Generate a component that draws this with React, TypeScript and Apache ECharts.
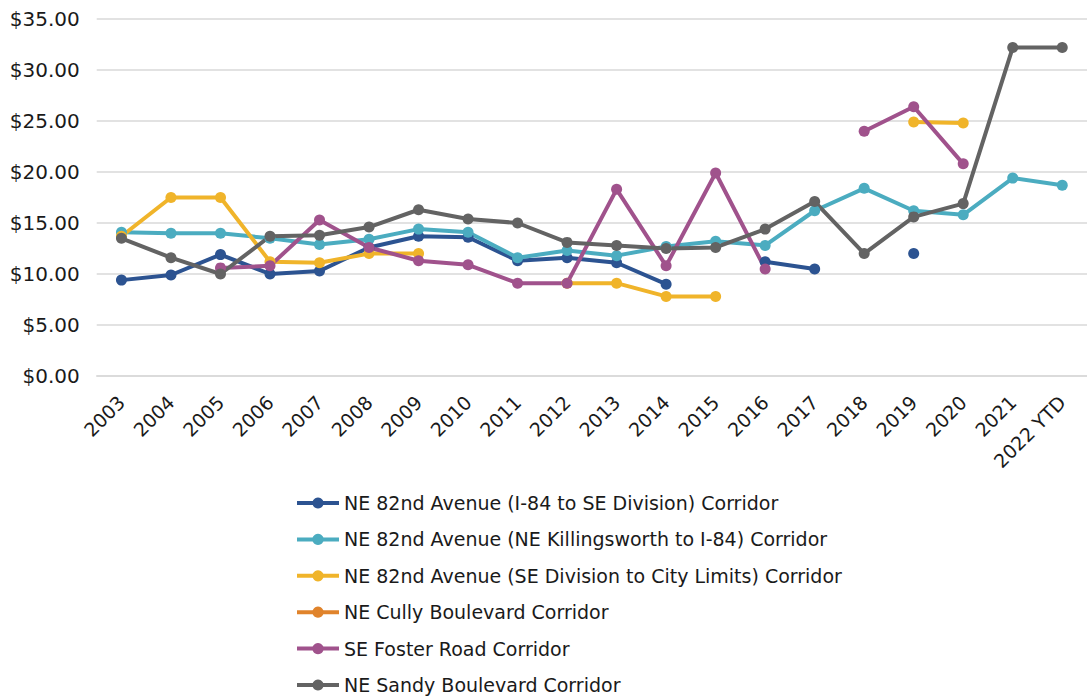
import React, { useEffect, useRef } from "react";
import * as echarts from "echarts";

const categories = ["2003","2004","2005","2006","2007","2008","2009","2010","2011","2012","2013","2014","2015","2016","2017","2018","2019","2020","2021","2022 YTD"];

const seriesNames = [
  "NE 82nd Avenue (I-84 to SE Division) Corridor",
  "NE 82nd Avenue (NE Killingsworth to I-84) Corridor",
  "NE 82nd Avenue (SE Division to City Limits) Corridor",
  "NE Cully Boulevard Corridor",
  "SE Foster Road Corridor",
  "NE Sandy Boulevard Corridor",
];

const i84ToDivision = [9.4, 9.9, 11.9, 10.0, 10.3, 12.6, 13.7, 13.6, 11.3, 11.6, 11.1, 9.0, null, 11.2, 10.5, null, 12.0, null, null, null];
const killingsworthToI84 = [14.1, 14.0, 14.0, 13.5, 12.9, 13.4, 14.4, 14.1, 11.6, 12.3, 11.8, 12.7, 13.2, 12.8, 16.2, 18.4, 16.2, 15.8, 19.4, 18.7];
const divisionToCityLimits = [13.7, 17.5, 17.5, 11.2, 11.1, 12.0, 12.0, null, null, 9.1, 9.1, 7.8, 7.8, null, null, null, 24.9, 24.8, null, null];
const cullyBoulevard = [null, null, null, null, null, null, null, null, null, null, null, null, null, null, null, null, null, null, null, null];
const fosterRoad = [null, null, 10.6, 10.8, 15.3, 12.6, 11.3, 10.9, 9.1, 9.1, 18.3, 10.8, 19.9, 10.5, null, 24.0, 26.4, 20.8, null, null];
const sandyBoulevard = [13.5, 11.6, 10.0, 13.7, 13.8, 14.6, 16.3, 15.4, 15.0, 13.1, 12.8, 12.5, 12.6, 14.4, 17.1, 12.0, 15.6, 16.9, 32.2, 32.2];

const seriesData = [i84ToDivision, killingsworthToI84, divisionToCityLimits, cullyBoulevard, fosterRoad, sandyBoulevard];
const colors = ["#2C5391", "#4BACC0", "#F0B42A", "#E0832B", "#A0528C", "#636363"];

const FONT = "DejaVu Sans";

export default function App() {
  const ref = useRef<HTMLDivElement>(null);
  useEffect(() => {
    document.body.style.margin = "0";
    if (!ref.current) return;
    const chart = echarts.init(ref.current, null, { renderer: "svg" });
    chart.setOption({
      animation: false,
      color: colors,
      textStyle: { fontFamily: FONT },
      grid: { left: 96.7, top: 19, width: 998.6, height: 357, containLabel: false },
      legend: {
        orient: "vertical",
        left: 295,
        top: 493,
        padding: 0,
        height: 207,
        align: "left",
        itemWidth: 42,
        itemHeight: 14,
        itemGap: 16.4,
        lineStyle: { width: 4 },
        textStyle: { fontFamily: FONT, fontSize: 19, color: "#1a1a1a", lineHeight: 20 },
        data: seriesNames,
      },
      xAxis: {
        type: "category",
        data: categories,
        boundaryGap: true,
        axisLine: { show: true, lineStyle: { color: "#D9D9D9", width: 1.5 } },
        axisTick: { show: false },
        axisLabel: { rotate: 45, fontSize: 19, fontFamily: FONT, color: "#1a1a1a", margin: 23, interval: 0 },
      },
      yAxis: {
        type: "value",
        min: 0,
        max: 35,
        interval: 5,
        axisLine: { show: false },
        axisTick: { show: false },
        splitLine: { lineStyle: { color: "#D9D9D9", width: 1.5 } },
        axisLabel: {
          fontSize: 20,
          fontFamily: FONT,
          color: "#1a1a1a",
          margin: 17,
          formatter: (v: number) => "$" + v.toFixed(2),
        },
      },
      series: seriesNames.map((name, i) => ({
        name,
        type: "line",
        data: seriesData[i],
        connectNulls: false,
        symbol: "circle",
        symbolSize: 11,
        showSymbol: true,
        lineStyle: { width: 4, color: colors[i] },
        itemStyle: { color: colors[i] },
      })),
    });
    return () => chart.dispose();
  }, []);
  return <div ref={ref} style={{ width: 1087, height: 700 }} />;
}
